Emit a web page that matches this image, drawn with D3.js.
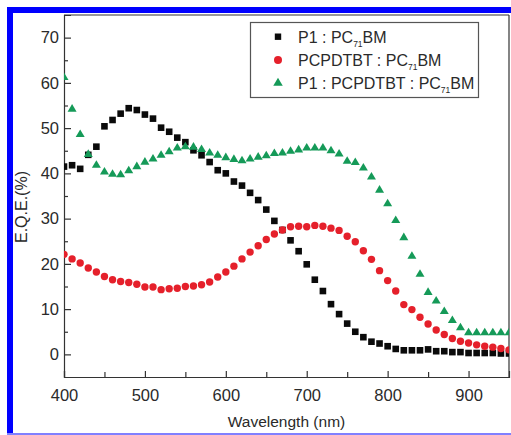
<!DOCTYPE html>
<html><head><meta charset="utf-8">
<script src="https://cdn.jsdelivr.net/npm/d3@7"></script>
<style>
html,body{margin:0;padding:0;background:#fff;}
svg{display:block;font-family:"Liberation Sans",Arial,Helvetica,sans-serif;}
</style></head>
<body><svg id="c" width="511" height="435"></svg>
<script>
const wavelengths = d3.range(400, 951, 10);
const seriesNames = ["P1 : PC", "PCPDTBT : PC", "P1 : PCPDTBT : PC"];
const p1 = [41.5,41.8,41.0,44.1,45.9,50.4,51.8,53.2,54.4,54.0,53.0,52.1,50.1,49.2,47.9,46.9,45.1,44.0,42.5,40.7,40.0,38.2,37.3,35.7,34.1,32.0,29.5,27.5,25.2,22.8,19.9,16.5,14.0,11.1,8.9,6.8,5.0,3.8,2.8,2.4,1.8,1.2,0.9,0.9,0.9,1.1,0.7,0.7,0.5,0.5,0.3,0.3,0.3,0.3,0.2,0.2];
const pcpdtbt = [22.1,21.1,20.2,19.1,18.2,17.2,16.5,16.1,15.9,15.5,14.9,14.9,14.3,14.5,14.6,15.0,15.1,15.4,16.0,17.1,18.2,19.5,21.1,22.6,24.0,25.4,26.6,27.5,28.2,28.3,28.2,28.5,28.3,27.9,27.4,26.1,24.9,22.9,21.0,18.5,16.3,14.0,11.0,9.9,8.2,6.7,5.4,4.4,3.5,2.9,2.5,2.1,1.8,1.6,1.3,1.0];
const ternary = [61.3,54.3,48.7,44.3,41.9,40.4,39.9,39.8,40.7,41.6,42.6,43.3,44.1,44.9,45.7,46.0,45.9,45.4,44.6,44.1,43.6,43.2,42.9,43.3,43.7,44.0,44.5,44.6,45.0,45.3,45.7,45.7,45.7,45.1,44.4,42.8,42.5,41.3,39.3,36.4,33.4,29.7,25.9,21.8,17.8,13.8,11.9,9.6,7.6,6.0,4.9,4.9,4.9,4.9,4.9,4.9];
const xTicks = [400,500,600,700,800,900];
const yTicks = [0,10,20,30,40,50,60,70];

const svg = d3.select("#c");
const L = 64, R = 509, T = 15, B = 377;
const x = d3.scaleLinear().domain([400,950]).range([L,R]);
const y = d3.scaleLinear().domain([-5,75]).range([B,T]);

// blue frame
svg.append("rect").attr("x",7).attr("y",7).attr("width",504).attr("height",6).attr("fill","#0000ff");
svg.append("rect").attr("x",7).attr("y",7).attr("width",6).attr("height",428).attr("fill","#0000ff");
svg.append("rect").attr("x",7).attr("y",433).attr("width",504).attr("height",2).attr("fill","#8080ff");

const textCol = "#2a2a2a", axisCol = "#333";

// axes
const xAxis = d3.axisBottom(x).tickValues(xTicks).tickSize(-6).tickPadding(12).tickFormat(d3.format("d"));
const gx = svg.append("g").attr("transform",`translate(0,${B})`).call(xAxis);
const xMinor = d3.axisBottom(x).tickValues([450,550,650,750,850]).tickSize(-5).tickFormat("");
svg.append("g").attr("transform",`translate(0,${B})`).call(xMinor).select(".domain").remove();

const yAxis = d3.axisLeft(y).tickValues(yTicks).tickSize(-7).tickPadding(5).tickFormat(d3.format("d"));
const gy = svg.append("g").attr("transform",`translate(${L},0)`).call(yAxis);
const yMinor = d3.axisLeft(y).tickValues([5,15,25,35,45,55,65]).tickSize(-4).tickFormat("");
svg.append("g").attr("transform",`translate(${L},0)`).call(yMinor).select(".domain").remove();

svg.selectAll(".domain").attr("stroke",axisCol).attr("stroke-width",1.2);
svg.selectAll(".tick line").attr("stroke",axisCol).attr("stroke-width",1.2);
svg.selectAll(".tick text").attr("fill",textCol).attr("font-size","16.5px")
  .attr("font-family","'Liberation Sans',Arial,sans-serif");

// top and right frame
svg.append("line").attr("x1",L).attr("x2",R).attr("y1",T).attr("y2",T).attr("stroke",axisCol).attr("stroke-width",1.2);
svg.append("line").attr("x1",R).attr("x2",R).attr("y1",T).attr("y2",B).attr("stroke",axisCol).attr("stroke-width",1.2);

// axis titles
svg.append("text").attr("x",(L+R)/2).attr("y",427).attr("text-anchor","middle")
  .attr("font-size","15.5px").attr("fill",textCol).text("Wavelength (nm)");
svg.append("text").attr("transform",`translate(27,${207}) rotate(-90)`).attr("text-anchor","middle")
  .attr("font-size","16px").attr("fill",textCol).text("E.Q.E.(%)");

// clip
svg.append("clipPath").attr("id","clip").append("rect").attr("x",L).attr("y",T).attr("width",R-L).attr("height",B-T);
const plot = svg.append("g").attr("clip-path","url(#clip)");

const black = "#0a0a0a", red = "#e5202b", green = "#159a58";
const sq = 6.6, cr = 3.7, tw = 9, th = 7.6;
function tri(cx,cy,w,h){return `M${cx},${cy-h*0.6}L${cx+w/2},${cy+h*0.4}L${cx-w/2},${cy+h*0.4}Z`;}

const dataOf = arr => wavelengths.map((w,i)=>({w,v:arr[i]}));

plot.selectAll(".sq").data(dataOf(p1)).join("rect")
  .attr("x",d=>x(d.w)-sq/2).attr("y",d=>y(d.v)-sq/2).attr("width",sq).attr("height",sq).attr("fill",black);
plot.selectAll(".ci").data(dataOf(pcpdtbt)).join("circle")
  .attr("cx",d=>x(d.w)).attr("cy",d=>y(d.v)).attr("r",cr).attr("fill",red);
plot.selectAll(".tr").data(dataOf(ternary)).join("path")
  .attr("d",d=>tri(x(d.w),y(d.v),tw,th)).attr("fill",green);

// legend
const lg = svg.append("g");
lg.append("rect").attr("x",250.5).attr("y",22.5).attr("width",228).attr("height",75)
  .attr("fill","#fff").attr("stroke","#555").attr("stroke-width",1.2);
const rows = [
  {name:seriesNames[0], cy:36.7, type:"sq"},
  {name:seriesNames[1], cy:60, type:"ci"},
  {name:seriesNames[2], cy:82.5, type:"tr"}
];
rows.forEach(r=>{
  const mx = 278;
  if(r.type==="sq") lg.append("rect").attr("x",mx-3.2).attr("y",r.cy-3.2).attr("width",6.4).attr("height",6.4).attr("fill",black);
  if(r.type==="ci") lg.append("circle").attr("cx",mx).attr("cy",r.cy).attr("r",4).attr("fill",red);
  if(r.type==="tr") lg.append("path").attr("d",tri(mx,r.cy,9.5,8)).attr("fill",green);
  const t = lg.append("text").attr("x",298).attr("y",r.cy+6).attr("font-size","16px").attr("fill",textCol);
  t.append("tspan").text(r.name);
  t.append("tspan").attr("font-size","8.5px").attr("dy",4).text("71");
  t.append("tspan").attr("dy",-4).text("BM");
});
</script>
</body></html>
